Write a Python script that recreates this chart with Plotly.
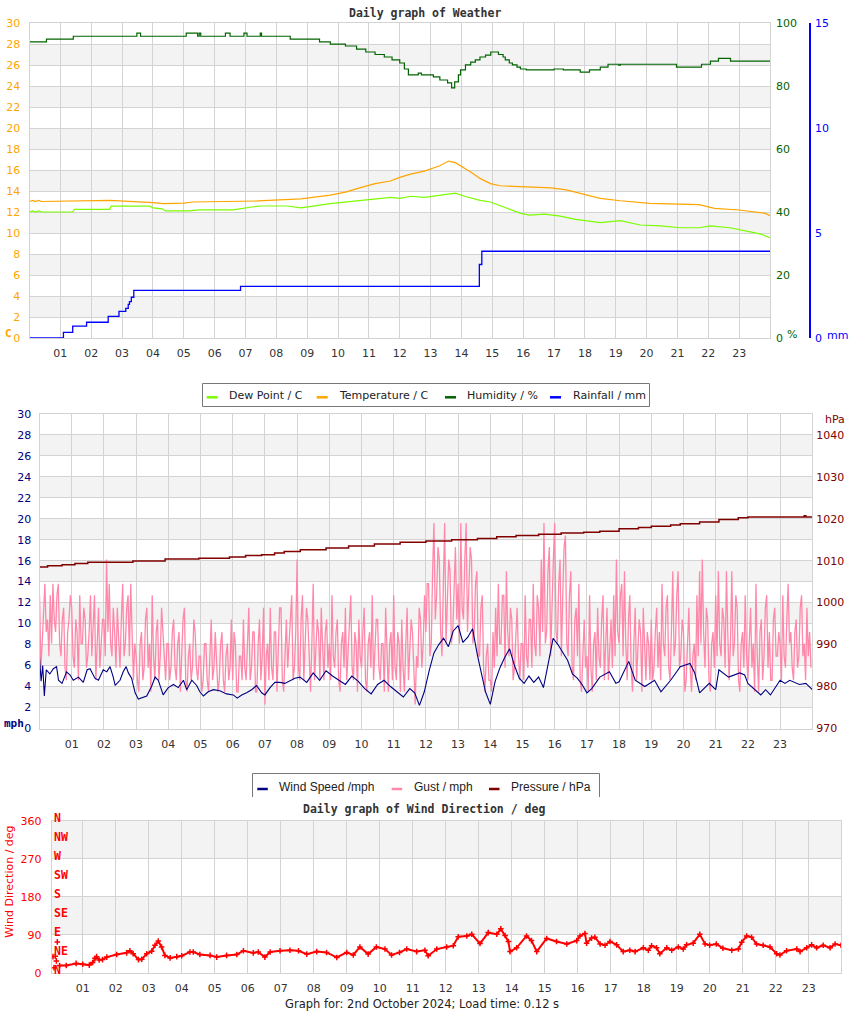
import plotly.graph_objects as go

W, H = 850, 1017

# ---------------- shared axis labels ----------------
hour_ticks = list(range(1, 24))
hour_labels = [f"{h:02d}" for h in hour_ticks]

# ---------------- top chart: weather ----------------
temp_t = [0, 0.12, 0.18, 0.3, 0.38, 2.6, 4.0, 4.35, 5.0, 5.3, 7.4, 8.3, 8.8, 9.75, 10.24,
          10.7, 11.2, 11.7, 12.0, 12.35, 12.8, 13.3, 13.58, 13.8, 13.97, 14.3, 14.6, 14.94,
          15.26, 15.9, 16.9, 17.4, 17.85, 18.2, 18.5, 19.15, 19.6, 20.1, 21.7, 22.2, 23.0,
          23.5, 23.85, 24.0]
temp_c = [13.0, 13.1, 13.0, 13.1, 13.0, 13.1, 12.9, 12.8, 12.85, 12.95, 13.05, 13.2, 13.25,
          13.6, 13.9, 14.3, 14.7, 14.95, 15.3, 15.6, 15.9, 16.4, 16.85, 16.7, 16.4, 15.8,
          15.2, 14.7, 14.5, 14.4, 14.3, 14.1, 13.8, 13.5, 13.3, 13.07, 12.95, 12.83, 12.7,
          12.35, 12.19, 12.0, 11.87, 11.65]

dew_t = [0, 0.1, 0.2, 0.3, 0.4, 1.4, 1.45, 2.6, 2.65, 3.9, 4.0, 4.3, 4.4, 5.15, 5.5, 6.6,
         7.26, 7.5, 8.35, 8.8, 9.75, 10.24, 10.7, 11.2, 11.7, 12.0, 12.35, 12.8, 13.3, 13.8,
         14.1, 14.6, 14.94, 15.26, 15.6, 15.9, 16.2, 16.7, 17.2, 17.7, 18.2, 18.5, 19.15,
         19.8, 20.45, 21.1, 21.7, 22.07, 22.7, 23.0, 23.36, 23.7, 24.0]
dew_c = [12.0, 12.1, 12.0, 12.1, 12.0, 12.0, 12.25, 12.25, 12.55, 12.55, 12.4, 12.3, 12.1,
         12.1, 12.2, 12.2, 12.5, 12.57, 12.57, 12.4, 12.8, 12.95, 13.05, 13.2, 13.4, 13.3,
         13.5, 13.4, 13.6, 13.8, 13.5, 13.1, 12.95, 12.6, 12.2, 11.9, 11.7, 11.8, 11.6,
         11.3, 11.1, 10.98, 11.17, 10.76, 10.67, 10.5, 10.5, 10.67, 10.5, 10.35, 10.1, 9.9,
         9.55]

hum_t = [0, 0.55, 1.42, 3.48, 3.6, 5.08, 5.45, 5.5, 5.55, 5.6, 6.35, 6.5, 6.95, 7.05, 7.48,
         7.52, 8.45, 9.4, 9.75, 10.24, 10.6, 10.9, 11.2, 11.5, 11.75, 12.0, 12.15, 12.28,
         12.6, 12.7, 13.09, 13.3, 13.55, 13.68, 13.78, 13.9, 13.97, 14.13, 14.3, 14.45,
         14.6, 14.78, 14.95, 15.2, 15.35, 15.42, 15.55, 15.65, 15.8, 15.91, 16.1, 17.0,
         17.3, 17.85, 18.15, 18.5, 18.75, 19.1, 19.15, 20.97, 21.78, 22.07, 22.33, 22.72,
         24.0]
hum_pct = [94.0, 94.9, 95.8, 96.8, 95.8, 96.8, 95.8, 96.8, 95.8, 95.8, 96.8, 95.8, 96.8,
           95.8, 96.8, 95.8, 94.9, 94.0, 93.3, 92.7, 91.7, 90.8, 90.0, 89.2, 88.3, 87.3,
           85.4, 83.5, 84.1, 83.5, 82.9, 81.9, 81.0, 79.4, 81.3, 83.5, 85.1, 86.7, 87.6,
           88.3, 89.2, 89.8, 90.8, 90.0, 89.2, 88.3, 87.3, 86.7, 86.0, 85.4, 85.1, 85.4,
           85.1, 84.4, 85.1, 86.0, 86.9, 86.6, 86.9, 86.0, 86.9, 87.9, 88.8, 87.9, 87.9]

rain_t = [0, 1.1, 1.4, 1.85, 2.55, 2.9, 3.12, 3.2, 3.24, 3.3, 3.38, 6.84, 14.58, 14.66, 24.0]
rain_mm = [0, 0.27, 0.57, 0.75, 1.03, 1.27, 1.41, 1.6, 1.73, 1.94, 2.27, 2.46, 3.5, 4.13, 4.13]

# ---------------- middle chart: wind speed / gust / pressure ----------------
ws_t = [0.0, 0.05, 0.1, 0.15, 0.21, 0.32, 0.43, 0.53, 0.59, 0.7,
        0.84, 0.95, 1.05, 1.21, 1.36, 1.48, 1.57, 1.72, 1.83, 1.98,
        2.09, 2.19, 2.29, 2.35, 2.5, 2.6, 2.69, 2.76, 2.86, 2.97,
        3.07, 3.17, 3.33, 3.48, 3.59, 3.69, 3.84, 4.0, 4.16, 4.31,
        4.47, 4.57, 4.73, 4.88, 4.98, 5.09, 5.24, 5.4, 5.6, 5.81,
        6.02, 6.14, 6.28, 6.43, 6.59, 6.74, 6.9, 7.0, 7.16, 7.31,
        7.47, 7.62, 7.78, 7.93, 8.09, 8.3, 8.5, 8.7, 8.9, 9.1,
        9.3, 9.5, 9.7, 9.9, 10.1, 10.3, 10.5, 10.7, 10.9, 11.1,
        11.3, 11.5, 11.65, 11.8, 11.95, 12.1, 12.25, 12.4, 12.55, 12.7,
        12.85, 13.0, 13.15, 13.3, 13.45, 13.6, 13.75, 13.85, 14.0, 14.15,
        14.3, 14.45, 14.6, 14.75, 14.9, 15.05, 15.2, 15.35, 15.5, 15.65,
        15.8, 15.95, 16.1, 16.25, 16.4, 16.55, 16.7, 16.85, 17.0, 17.15,
        17.3, 17.4, 17.7, 17.9, 18.0, 18.3, 18.5, 18.8, 19.1, 19.3,
        19.6, 19.9, 20.2, 20.35, 20.5, 20.8, 21.0, 21.1, 21.4, 21.75,
        21.9, 22.0, 22.4, 22.55, 22.7, 23.0, 23.15, 23.3, 23.6, 23.8,
        24.0]
ws_mph = [6.8, 4.5, 6.0, 3.1, 5.6, 5.2, 5.7, 5.9, 4.6, 4.3,
          5.4, 5.1, 4.6, 4.9, 4.4, 5.6, 5.7, 4.8, 4.6, 5.6,
          5.4, 5.9, 4.9, 4.1, 4.6, 5.4, 5.9, 5.3, 4.8, 3.4,
          2.8, 2.9, 3.1, 4.0, 4.9, 4.6, 3.2, 3.9, 4.2, 3.9,
          4.6, 3.7, 4.6, 4.1, 3.5, 3.1, 3.5, 3.7, 3.6, 3.3,
          3.2, 2.9, 3.2, 3.4, 3.7, 4.1, 3.4, 3.2, 3.9, 4.4,
          4.4, 4.3, 4.6, 4.8, 4.9, 4.4, 5.3, 4.6, 5.5, 5.0,
          4.6, 4.2, 5.0, 4.5, 3.8, 3.3, 4.2, 4.6, 4.0, 3.5,
          3.0, 3.8, 3.4, 2.2, 3.5, 5.5, 7.2, 8.0, 8.6, 7.8,
          9.3, 9.8, 8.2, 8.7, 9.5, 7.0, 5.0, 3.5, 2.3, 4.5,
          5.8, 6.8, 7.6, 6.0, 4.8, 4.3, 5.0, 4.4, 4.9, 3.9,
          6.2, 8.6, 8.0, 7.3, 6.5, 5.2, 4.8, 4.2, 3.4, 3.8,
          4.5, 4.9, 5.4, 4.3, 4.45, 6.4, 4.6, 4.0, 4.6, 3.5,
          4.6, 5.9, 6.2, 5.3, 3.4, 4.3, 3.7, 5.6, 4.9, 5.3,
          5.1, 4.3, 3.2, 3.7, 3.2, 4.6, 4.3, 4.6, 4.2, 4.3,
          3.7]

# gust, one reading every 2.5 minutes (24 per hour, one row per hour)
gust_mph = [
    12.7, 5.8, 8.1, 11.5, 13.8, 9.2, 10.4, 6.9, 12.7, 8.1, 13.8, 10.4, 9.2, 12.7, 13.8, 8.1, 6.9, 10.4, 11.5, 5.8, 4.6, 9.2, 10.4, 12.7,
    11.5, 6.9, 5.8, 10.4, 9.2, 4.6, 12.7, 8.1, 8.1, 11.5, 10.4, 5.8, 6.9, 9.2, 12.7, 6.9, 9.2, 12.7, 4.6, 8.1, 11.5, 5.8, 8.1, 10.4,
    10.4, 6.9, 16.1, 9.2, 13.8, 8.1, 6.9, 11.5, 9.2, 5.8, 11.5, 8.1, 5.8, 10.4, 13.8, 6.9, 8.1, 11.5, 12.7, 6.9, 13.8, 9.2, 4.6, 8.1,
    6.9, 4.6, 3.5, 8.1, 9.2, 4.6, 5.8, 10.4, 11.5, 5.8, 8.1, 3.5, 12.7, 6.9, 4.6, 9.2, 10.4, 4.6, 6.9, 11.5, 9.2, 5.8, 4.6, 8.1,
    8.1, 4.6, 5.8, 9.2, 10.4, 5.8, 4.6, 8.1, 9.2, 3.5, 6.9, 10.4, 11.5, 4.6, 3.5, 6.9, 8.1, 4.6, 5.8, 10.4, 9.2, 5.8, 4.6, 6.9,
    6.9, 3.5, 4.6, 8.1, 8.1, 4.6, 3.5, 6.9, 10.4, 4.6, 5.8, 9.2, 6.9, 3.5, 4.6, 8.1, 9.2, 4.6, 3.5, 6.9, 8.1, 4.6, 5.8, 10.4,
    4.6, 9.2, 8.1, 3.5, 3.5, 6.9, 6.9, 4.6, 10.4, 5.8, 4.6, 8.1, 11.5, 4.6, 5.8, 9.2, 9.2, 3.5, 3.5, 8.1, 10.4, 4.6, 6.9, 11.5,
    2.3, 6.9, 8.1, 4.6, 11.5, 5.8, 4.6, 9.2, 9.2, 3.5, 6.9, 11.5, 11.5, 4.6, 3.5, 8.1, 10.4, 5.8, 8.1, 11.5, 12.7, 4.6, 5.8, 9.2,
    16.1, 5.8, 4.6, 10.4, 12.7, 4.6, 8.1, 11.5, 10.4, 5.8, 3.5, 8.1, 13.8, 4.6, 6.9, 10.4, 9.2, 4.6, 11.5, 6.9, 4.6, 9.2, 10.4, 5.8,
    8.1, 4.6, 12.7, 6.9, 5.8, 9.2, 10.4, 4.6, 3.5, 8.1, 9.2, 5.8, 11.5, 4.6, 6.9, 10.4, 12.7, 5.8, 4.6, 9.2, 8.1, 3.5, 10.4, 6.9,
    5.8, 9.2, 11.5, 4.6, 3.5, 8.1, 9.2, 5.8, 12.7, 4.6, 6.9, 10.4, 10.4, 5.8, 4.6, 8.1, 8.1, 3.5, 11.5, 6.9, 3.5, 8.1, 9.2, 4.6,
    12.7, 5.8, 4.6, 9.2, 8.1, 3.5, 10.4, 5.8, 3.5, 8.1, 11.5, 4.6, 6.9, 10.4, 9.2, 4.6, 2.3, 6.9, 5.8, 11.5, 10.4, 5.8, 8.1, 12.7,
    9.2, 13.8, 13.8, 6.9, 8.1, 15.0, 19.6, 10.4, 12.7, 17.3, 16.1, 9.2, 6.9, 13.8, 19.6, 8.1, 11.5, 16.1, 15.0, 8.1, 9.2, 13.8, 17.3, 10.4,
    13.8, 8.1, 19.6, 11.5, 10.4, 16.1, 19.6, 9.2, 12.7, 17.3, 16.1, 8.1, 9.2, 13.8, 15.0, 6.9, 6.9, 11.5, 12.7, 5.8, 3.5, 6.9, 8.1, 4.6,
    4.6, 3.5, 9.2, 5.8, 11.5, 6.9, 13.8, 8.1, 8.1, 12.7, 12.7, 5.8, 15.0, 9.2, 6.9, 11.5, 10.4, 4.6, 5.8, 9.2, 11.5, 6.9, 4.6, 8.1,
    8.1, 4.6, 12.7, 6.9, 5.8, 10.4, 10.4, 5.8, 13.8, 8.1, 6.9, 12.7, 11.5, 6.9, 16.1, 9.2, 19.6, 8.1, 9.2, 15.0, 17.3, 6.9, 12.7, 16.1,
    19.6, 9.2, 8.1, 13.8, 16.1, 6.9, 12.7, 17.3, 18.4, 8.1, 6.9, 12.7, 15.0, 5.8, 4.6, 10.4, 11.5, 6.9, 13.8, 4.6, 3.5, 8.1, 10.4, 5.8,
    6.9, 3.5, 12.7, 5.8, 3.5, 8.1, 9.2, 4.6, 11.5, 6.9, 5.8, 10.4, 12.7, 4.6, 8.1, 11.5, 4.6, 8.1, 10.4, 5.8, 12.7, 6.9, 16.1, 9.2,
    8.1, 12.7, 13.8, 6.9, 15.0, 8.1, 4.6, 10.4, 12.7, 5.8, 3.5, 8.1, 11.5, 4.6, 6.9, 10.4, 9.2, 3.5, 11.5, 6.9, 4.6, 9.2, 8.1, 4.6,
    10.4, 4.6, 5.8, 9.2, 11.5, 5.8, 9.2, 4.6, 13.8, 8.1, 6.9, 11.5, 12.7, 5.8, 4.6, 9.2, 15.0, 6.9, 8.1, 12.7, 15.0, 5.8, 6.9, 10.4,
    9.2, 3.5, 4.6, 8.1, 11.5, 5.8, 3.5, 6.9, 8.1, 4.6, 12.7, 6.9, 15.0, 8.1, 16.1, 9.2, 5.8, 11.5, 10.4, 4.6, 3.5, 8.1, 9.2, 5.8,
    12.7, 6.9, 15.0, 8.1, 6.9, 11.5, 10.4, 5.8, 15.0, 9.2, 4.6, 8.1, 15.0, 6.9, 8.1, 12.7, 11.5, 4.6, 3.5, 8.1, 9.2, 5.8, 12.7, 6.9,
    4.6, 8.1, 11.5, 5.8, 8.1, 3.5, 13.8, 6.9, 3.5, 9.2, 10.4, 4.6, 6.9, 11.5, 12.7, 5.8, 9.2, 4.6, 4.6, 10.4, 11.5, 6.9, 6.9, 9.2,
    8.1, 4.6, 12.7, 6.9, 5.8, 10.4, 13.8, 8.1, 9.2, 5.8, 4.6, 9.2, 10.4, 5.8, 6.9, 11.5, 12.7, 6.9, 8.1, 4.6, 11.5, 6.9, 9.2, 5.8,
]
gust_t = [i / 24 for i in range(len(gust_mph))]

pres_t = [0, 0.25, 0.7, 1.1, 1.5, 2.9, 3.9, 4.95, 5.9, 6.4, 6.9, 7.3, 7.6, 8.1, 8.9, 9.6,
          10.4, 11.2, 12.0, 12.8, 13.6, 14.2, 14.8, 15.5, 16.2, 16.9, 17.4, 18.0, 18.6,
          19.0, 19.6, 19.9, 20.5, 21.1, 21.7, 22.0, 23.7, 23.75, 23.8, 24.0]
pres_hpa = [1008.5, 1008.8, 1009.0, 1009.3, 1009.6, 1009.9, 1010.4, 1010.6, 1010.9, 1011.2,
            1011.4, 1011.8, 1012.2, 1012.6, 1013.0, 1013.5, 1014.0, 1014.4, 1014.7, 1015.0,
            1015.3, 1015.7, 1016.0, 1016.3, 1016.6, 1016.8, 1017.0, 1017.6, 1017.9, 1018.2,
            1018.5, 1018.8, 1019.2, 1019.8, 1020.2, 1020.4, 1020.4, 1020.7, 1020.4, 1020.5]

# ---------------- bottom chart: wind direction ----------------
wd_t = [0.3, 0.5, 0.8, 1.0, 1.2, 1.3, 1.37, 1.42, 1.5, 1.6,
        1.73, 2.03, 2.33, 2.43, 2.53, 2.69, 2.79, 2.94, 3.09, 3.19,
        3.29, 3.39, 3.49, 3.65, 3.85, 4.0, 4.25, 4.35, 4.55, 4.86,
        5.06, 5.36, 5.67, 5.87, 6.17, 6.32, 6.52, 6.68, 6.98, 7.28,
        7.54, 7.79, 8.09, 8.39, 8.7, 9.0, 9.2, 9.4, 9.65, 9.9,
        10.16, 10.36, 10.6, 10.82, 11.12, 11.37, 11.47, 11.73, 12.03, 12.23,
        12.38, 12.64, 12.79, 13.04, 13.29, 13.55, 13.67, 13.8, 13.9, 13.95,
        14.15, 14.45, 14.6, 14.76, 15.06, 15.36, 15.67, 15.97, 16.07, 16.22,
        16.27, 16.42, 16.52, 16.68, 16.83, 16.98, 17.18, 17.38, 17.58, 17.74,
        17.99, 18.14, 18.24, 18.39, 18.49, 18.7, 18.85, 19.05, 19.2, 19.3,
        19.5, 19.7, 19.86, 20.0, 20.2, 20.4, 20.67, 20.87, 20.97, 21.12,
        21.27, 21.42, 21.62, 21.83, 22.03, 22.13, 22.33, 22.64, 22.74, 22.94,
        23.09, 23.24, 23.44, 23.65, 23.8, 23.98]
wd_deg = [17, 17, 22, 20, 18, 24, 34, 38, 30, 31,
          37, 43, 47, 52, 45, 31, 32, 45, 51, 65,
          75, 61, 41, 35, 38, 40, 49, 49, 43, 41,
          37, 41, 43, 52, 47, 49, 37, 49, 52, 53,
          52, 44, 50, 48, 36, 48, 42, 61, 44, 61,
          56, 42, 48, 56, 50, 53, 40, 56, 61, 64,
          85, 87, 91, 69, 95, 91, 104, 88, 74, 50,
          59, 87, 76, 50, 81, 74, 68, 76, 87, 93,
          70, 82, 84, 68, 65, 74, 66, 50, 53, 50,
          59, 53, 64, 59, 45, 59, 53, 61, 56, 66,
          70, 91, 68, 65, 68, 58, 53, 56, 72, 87,
          84, 68, 65, 61, 45, 42, 52, 56, 50, 59,
          66, 59, 65, 59, 68, 65]
wd_scatter_t = [0.05, 0.1, 0.13, 0.17, 0.2, 0.23]
wd_scatter_deg = [25, 38, 12, 39, 28, 73]
# readings drawn below the chart area
below_t = [0.52, 1.22, 1.27, 1.65, 2.55, 3.22, 3.39, 3.46, 5.77, 8.24, 8.31, 8.58, 9.25, 9.32,
           9.5, 10.31, 10.97, 11.04, 11.62, 13.65, 13.85, 13.95, 14.3, 14.55, 14.78, 14.88,
           14.96, 15.82, 15.97, 16.22, 16.52, 16.62, 16.78, 16.9, 17.26, 18.17, 18.44, 18.78,
           19.2, 20.92, 21.02, 21.32, 21.95]
below_deg = [-98] * len(below_t)

compass_labels = ["N", "NE", "E", "SE", "S", "SW", "W", "NW", "N"]
compass_deg = [0, 45, 90, 135, 180, 225, 270, 315, 360]

# ---------------- styling ----------------
C_DEW = "#7CFC00"
C_TEMP = "#FFA500"
C_HUM = "#006400"
C_RAIN = "#0000FF"
C_WIND = "#000080"
C_GUST = "#FF88AA"
C_PRES = "#800000"
C_DIR = "#FF0000"
GRID = "#d3d3d3"
BAND = "#f3f3f3"
TXT = "#333333"
SANS = "DejaVu Sans"
MONO = "DejaVu Sans Mono"


def px(x):
    return x / W


def py(y):
    return 1 - y / H


fig = go.Figure()

# top
fig.add_trace(go.Scatter(x=dew_t, y=dew_c, mode="lines", line=dict(color=C_DEW, width=1.2),
                         xaxis="x", yaxis="y", showlegend=False))
fig.add_trace(go.Scatter(x=temp_t, y=temp_c, mode="lines", line=dict(color=C_TEMP, width=1.2),
                         xaxis="x", yaxis="y", showlegend=False))
fig.add_trace(go.Scatter(x=hum_t, y=hum_pct, mode="lines", line=dict(color=C_HUM, width=1.2, shape="hv"),
                         xaxis="x", yaxis="y2", showlegend=False))
fig.add_trace(go.Scatter(x=rain_t, y=rain_mm, mode="lines", line=dict(color=C_RAIN, width=1.3, shape="hv"),
                         xaxis="x", yaxis="y3", showlegend=False))
# middle
fig.add_trace(go.Scatter(x=gust_t, y=gust_mph, mode="lines", line=dict(color=C_GUST, width=1.3),
                         xaxis="x2", yaxis="y4", showlegend=False))
fig.add_trace(go.Scatter(x=ws_t, y=ws_mph, mode="lines", line=dict(color=C_WIND, width=1.1),
                         xaxis="x2", yaxis="y4", showlegend=False))
fig.add_trace(go.Scatter(x=pres_t, y=pres_hpa, mode="lines", line=dict(color=C_PRES, width=1.5, shape="hv"),
                         xaxis="x2", yaxis="y5", showlegend=False))
# bottom
mk = dict(symbol="cross-thin", size=4, color=C_DIR, line=dict(color=C_DIR, width=1.5))
fig.add_trace(go.Scatter(x=wd_t, y=wd_deg, mode="lines+markers", line=dict(color=C_DIR, width=2),
                         marker=mk, xaxis="x3", yaxis="y6", showlegend=False))
fig.add_trace(go.Scatter(x=wd_scatter_t, y=wd_scatter_deg, mode="markers", marker=mk,
                         xaxis="x3", yaxis="y6", showlegend=False))
fig.add_trace(go.Scatter(x=below_t, y=below_deg, mode="markers", marker=mk, cliponaxis=False,
                         xaxis="x3", yaxis="y6", showlegend=False))


def xax(domain, anchor, rng):
    return dict(domain=domain, anchor=anchor, range=rng, tickvals=hour_ticks, ticktext=hour_labels,
                showgrid=True, gridcolor=GRID, gridwidth=1, zeroline=False, ticks="",
                showline=True, mirror=True, linecolor=GRID, linewidth=1, automargin=False,
                tickfont=dict(family=SANS, size=11, color=TXT), ticklabelstandoff=5, fixedrange=True)


def yax(domain, anchor, rng, color, **kw):
    d = dict(domain=domain, anchor=anchor, range=rng, showgrid=True, gridcolor=GRID, gridwidth=1,
             zeroline=False, ticks="", showline=True, mirror=True, linecolor=GRID, linewidth=1,
             automargin=False,
             tickfont=dict(family=SANS, size=11, color=color), ticklabelstandoff=6)
    d.update(kw)
    return d


top_x = [px(29.5), px(770)]
top_y = [py(338), py(23)]
mid_x = [px(39.5), px(812.3)]
mid_y = [py(728.5), py(413.8)]
bot_x = [px(51.7), px(841)]
bot_y = [py(972.7), py(820.7)]

layout = dict(
    width=W, height=H, autosize=False,
    margin=dict(l=0, r=0, t=0, b=0, pad=0, autoexpand=False),
    paper_bgcolor="white", plot_bgcolor="white",
    showlegend=False,
    xaxis=xax(top_x, "y", [0, 24]),
    yaxis=yax(top_y, "x", [0, 30], C_TEMP, dtick=2, tick0=0),
    yaxis2=dict(overlaying="y", anchor="x", side="right", range=[0, 100], automargin=False,
                tickvals=[0, 20, 40, 60, 80, 100], showgrid=False, zeroline=False, ticks="",
                tickfont=dict(family=SANS, size=11, color=C_HUM), ticklabelstandoff=5),
    yaxis3=dict(overlaying="y", anchor="free", position=px(810), side="right", range=[0, 15],
                tickvals=[0, 5, 10, 15], showgrid=False, zeroline=False, ticks="", automargin=False,
                showline=True, linecolor=C_RAIN, linewidth=1.5,
                tickfont=dict(family=SANS, size=11, color=C_RAIN), ticklabelstandoff=2),
    xaxis2=xax(mid_x, "y4", [0, 24]),
    yaxis4=yax(mid_y, "x2", [0, 30], C_WIND, dtick=2, tick0=0, ticklabelstandoff=5),
    yaxis5=dict(overlaying="y4", anchor="x2", side="right", range=[970, 1045], automargin=False,
                tickvals=[970, 980, 990, 1000, 1010, 1020, 1030, 1040], showgrid=False,
                zeroline=False, ticks="", tickfont=dict(family=SANS, size=11, color=C_PRES),
                ticklabelstandoff=3),
    xaxis3=xax(bot_x, "y6", [0.06, 23.98]),
    yaxis6=yax(bot_y, "x3", [0, 360], C_DIR, tickvals=[0, 90, 180, 270, 360], ticklabelstandoff=7),
)

shapes = []
for lo in range(2, 30, 4):
    for yref in ("y", "y4"):
        shapes.append(dict(type="rect", xref=("x domain" if yref == "y" else "x2 domain"), yref=yref,
                           x0=0, x1=1, y0=lo, y1=lo + 2, fillcolor=BAND, line=dict(width=0),
                           layer="below"))
for lo in (90, 270):
    shapes.append(dict(type="rect", xref="x3 domain", yref="y6", x0=0, x1=1, y0=lo, y1=lo + 90,
                       fillcolor=BAND, line=dict(width=0), layer="below"))

# legend 1 (built from shapes + text)
shapes.append(dict(type="rect", xref="paper", yref="paper", x0=px(202.5), x1=px(649.5),
                   y0=py(406.5), y1=py(383.5), fillcolor="white", line=dict(color="#777777", width=1)))
leg1 = [("Dew Point / C", C_DEW, 206.7, 227.3), ("Temperature / C", C_TEMP, 316.7, 337.3),
        ("Humidity / %", C_HUM, 445.0, 465.0), ("Rainfall / mm", C_RAIN, 550.0, 570.7)]
leg2 = [("Wind Speed /mph", C_WIND, 257.3, 277.3), ("Gust / mph", C_GUST, 391.7, 411.7),
        ("Pressure / hPa", C_PRES, 489.0, 509.3)]
shapes.append(dict(type="path", xref="paper", yref="paper",
                   path=f"M {px(252.5)},{py(797)} L {px(252.5)},{py(773.5)} L {px(599.5)},{py(773.5)} L {px(599.5)},{py(797)}",
                   line=dict(color="#777777", width=1)))

annotations = []
for name, col, lx, tx in leg1:
    shapes.append(dict(type="line", xref="paper", yref="paper", x0=px(lx), x1=px(lx + 11),
                       y0=py(397.3), y1=py(397.3), line=dict(color=col, width=2.5)))
    annotations.append(dict(text=name, xref="paper", yref="paper", x=px(tx), y=py(396),
                            xanchor="left", yanchor="middle", showarrow=False,
                            font=dict(family=SANS, size=11, color="#222222")))
for name, col, lx, tx in leg2:
    shapes.append(dict(type="line", xref="paper", yref="paper", x0=px(lx), x1=px(lx + 10.5),
                       y0=py(789), y1=py(789), line=dict(color=col, width=2.5)))
    annotations.append(dict(text=name, xref="paper", yref="paper", x=px(tx), y=py(787),
                            xanchor="left", yanchor="middle", showarrow=False,
                            font=dict(family="Liberation Sans", size=12, color="#222222")))


def note(text, x, y, size=11, color=TXT, family=SANS, xanchor="center", angle=0):
    annotations.append(dict(text=text, xref="paper", yref="paper", x=px(x), y=py(y),
                            xanchor=xanchor, yanchor="middle", showarrow=False, textangle=angle,
                            font=dict(family=family, size=size, color=color)))


note("<b>Daily graph of Weather</b>", 425, 13, size=11.5, family=MONO)
note("<b>Daily graph of Wind Direction / deg</b>", 424, 809, size=11.5, family=MONO)
note("Graph for: 2nd October 2024; Load time: 0.12 s", 421.5, 1004, size=11.5, color="#222222")
note("<b>C</b>", 3, 333, size=11, color=C_TEMP, family=MONO, xanchor="left")
note("%", 785, 334, size=11, color=C_HUM, xanchor="left")
note("mm", 825, 335, size=11, color=C_RAIN, xanchor="left")
note("<b>mph</b>", 1.5, 723, size=11, color=C_WIND, family=MONO, xanchor="left")
note("hPa", 822.5, 419, size=11, color=C_PRES, xanchor="left")
note("Wind Direction / deg", 8.7, 882, size=11, color=C_DIR, angle=-90)

# compass labels sit just above each 45-degree level (axis spans 152 px for 360 deg)
for lab, deg in zip(compass_labels, compass_deg):
    note(f"<b>{lab}</b>", 52, 972.7 - deg * 152 / 360 - 3, size=11.5, color=C_DIR,
         family=MONO, xanchor="left")

layout["shapes"] = shapes
layout["annotations"] = annotations
fig.update_layout(**layout)

fig.write_html("out.html", config={"displayModeBar": False},
               post_script="document.body.style.margin='0';document.body.style.padding='0';"
                           "document.body.style.overflow='hidden';")
